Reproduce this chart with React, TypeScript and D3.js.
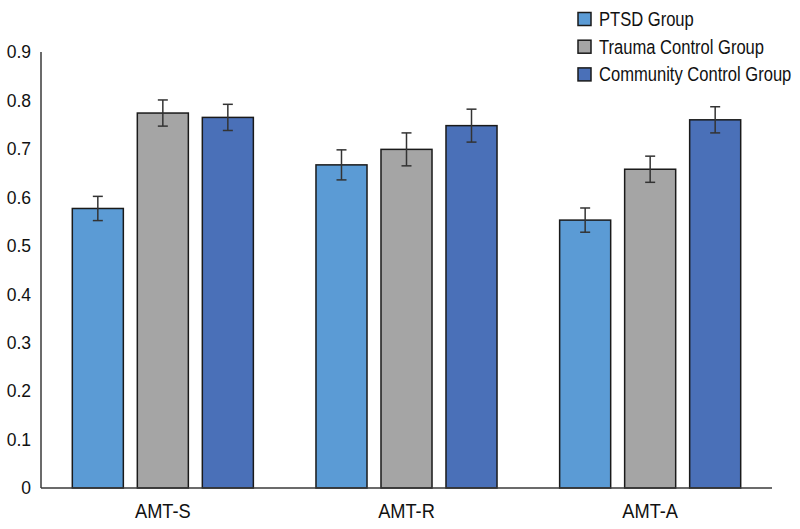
import React from 'react';
import * as d3 from 'd3';

const categories = ['AMT-S', 'AMT-R', 'AMT-A'];
const groups = ['PTSD Group', 'Trauma Control Group', 'Community Control Group'];
const groupColors = ['#5b9bd5', '#a5a5a5', '#4a70b8'];

// means per category, one array per group
const ptsdMeans = [0.577, 0.667, 0.553];
const traumaMeans = [0.774, 0.699, 0.658];
const communityMeans = [0.765, 0.748, 0.76];

// half-widths of the error bars
const ptsdErr = [0.025, 0.031, 0.025];
const traumaErr = [0.027, 0.034, 0.027];
const communityErr = [0.027, 0.034, 0.027];

const yTicks = [0, 0.1, 0.2, 0.3, 0.4, 0.5, 0.6, 0.7, 0.8, 0.9];

const W = 800;
const H = 529;
const margin = { top: 52, right: 28, bottom: 41, left: 41 };

const App: React.FC = () => {
  const means = [ptsdMeans, traumaMeans, communityMeans];
  const errs = [ptsdErr, traumaErr, communityErr];

  const x0 = d3.scaleBand<string>()
    .domain(categories)
    .range([margin.left, W - margin.right])
    .paddingInner(0.257)
    .paddingOuter(0.1285);

  const x1 = d3.scaleBand<string>()
    .domain(groups)
    .range([0, x0.bandwidth()])
    .paddingInner(0.215);

  const y = d3.scaleLinear()
    .domain([0, 0.9])
    .range([H - margin.bottom, margin.top]);

  const axisColor = '#3a3a3a';
  const sans = '"Liberation Sans", Arial, sans-serif';

  return (
    <svg width={W} height={H} style={{ position: 'absolute', left: 0, top: 0, background: '#fff' }}>
      {/* y axis */}
      <line x1={margin.left} x2={margin.left} y1={y(0.9)} y2={y(0)} stroke={axisColor} strokeWidth={1.5} />
      {yTicks.map(t => (
        <text
          key={t}
          x={31}
          y={y(t)}
          dy="0.36em"
          textAnchor="end"
          fontFamily={sans}
          fontSize={17.5}
          fill="#111"
        >
          {t === 0 ? '0' : d3.format('.1f')(t)}
        </text>
      ))}

      {/* bars */}
      {categories.map((c, ci) => (
        <g key={c} transform={`translate(${x0(c)},0)`}>
          {groups.map((g, gi) => {
            const v = means[gi][ci];
            const e = errs[gi][ci];
            const bx = x1(g) || 0;
            const cx = bx + x1.bandwidth() / 2;
            return (
              <g key={g}>
                <rect
                  x={bx}
                  y={y(v)}
                  width={x1.bandwidth()}
                  height={y(0) - y(v)}
                  fill={groupColors[gi]}
                  stroke="#1a1a1a"
                  strokeWidth={1.5}
                />
                <line x1={cx} x2={cx} y1={y(v + e)} y2={y(v - e)} stroke="#333" strokeWidth={1.5} />
                <line x1={cx - 5} x2={cx + 5} y1={y(v + e)} y2={y(v + e)} stroke="#333" strokeWidth={1.5} />
                <line x1={cx - 5} x2={cx + 5} y1={y(v - e)} y2={y(v - e)} stroke="#333" strokeWidth={1.5} />
              </g>
            );
          })}
          {/* condensed category label */}
          <g transform={`translate(${x0.bandwidth() / 2},${y(0) + 30}) scale(0.89,1)`}>
            <text textAnchor="middle" fontFamily={sans} fontSize={20.5} fill="#111">
              {c}
            </text>
          </g>
        </g>
      ))}

      {/* x axis */}
      <line x1={margin.left} x2={W - margin.right} y1={y(0)} y2={y(0)} stroke={axisColor} strokeWidth={1.5} />

      {/* legend */}
      {groups.map((g, gi) => (
        <g key={g} transform={`translate(578,${19 + gi * 27.7})`}>
          <rect x={0} y={-6.5} width={13} height={13} fill={groupColors[gi]} stroke="#1a1a1a" strokeWidth={1.5} />
          <g transform="translate(21,0) scale(0.85,1)">
            <text dy="0.36em" fontFamily={sans} fontSize={19.5} fill="#111">
              {g}
            </text>
          </g>
        </g>
      ))}
    </svg>
  );
};

export default App;
